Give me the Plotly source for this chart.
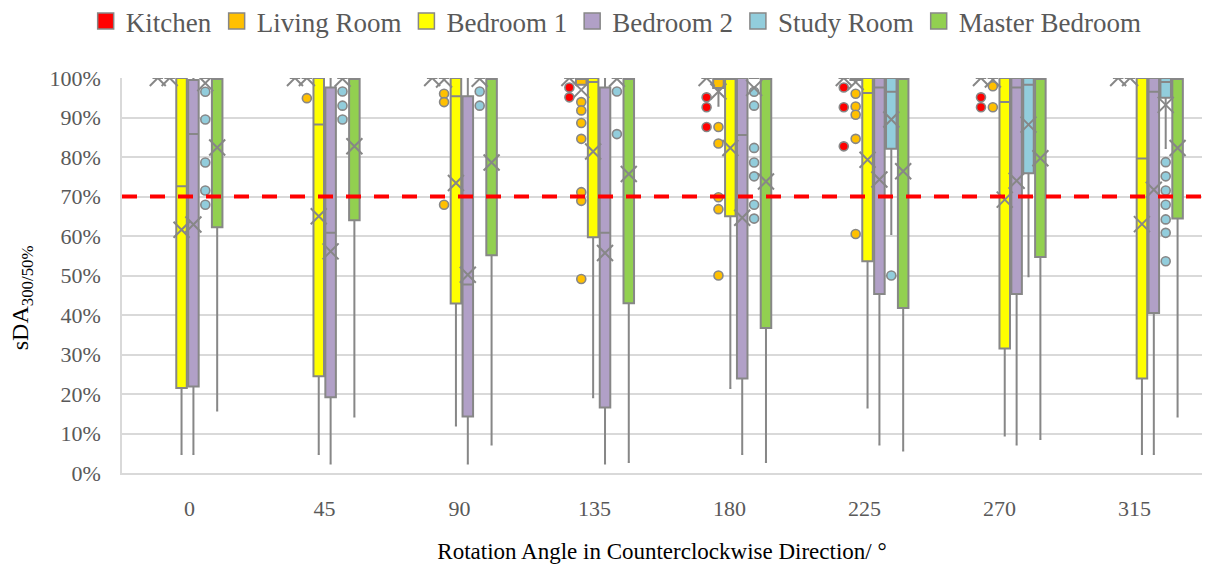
import plotly.graph_objects as go

# Rotation angles (categories on the x axis)
angles = ["0", "45", "90", "135", "180", "225", "270", "315"]

rooms = ["Kitchen", "Living Room", "Bedroom 1", "Bedroom 2", "Study Room", "Master Bedroom"]

# Box statistics per room (sDA300/50%, in percent), one value per angle
kitchen_q1 = [100, 100, 100, 100, 100, 100, 100, 100]
kitchen_median = [100, 100, 100, 100, 100, 100, 100, 100]
kitchen_q3 = [100, 100, 100, 100, 100, 100, 100, 100]
kitchen_low = [100, 100, 100, 100, 100, 100, 100, 100]
kitchen_high = [100, 100, 100, 100, 100, 100, 100, 100]
kitchen_mean = [100, 100, 100, 100, 100, 100, 100, 100]
kitchen_outliers = [[], [], [], [97.6, 95.1], [95.1, 92.6, 87.6], [97.6, 92.6, 82.7], [95.1, 92.6], []]

living_q1 = [100, 100, 100, 98.3, 97.5, 99.5, 100, 100]
living_median = [100, 100, 100, 100, 100, 100, 100, 100]
living_q3 = [100, 100, 100, 100, 100, 100, 100, 100]
living_low = [100, 100, 100, 98.3, 93.0, 99.5, 100, 100]
living_high = [100, 100, 100, 100, 100, 100, 100, 100]
living_mean = [100, 100, 99.6, 97.0, 96.6, 99.0, 99.6, 100]
living_outliers = [[], [94.9], [96.0, 93.9, 67.9],
                   [93.9, 91.8, 88.6, 84.6, 71.1, 68.9, 49.1],
                   [87.6, 83.4, 69.8, 66.8, 50.0],
                   [96.0, 92.8, 90.7, 84.6, 60.5],
                   [97.9, 92.6], []]

bed1_q1 = [21.5, 24.5, 42.9, 59.7, 65.0, 53.6, 31.5, 23.9]
bed1_median = [72.6, 88.2, 95.4, 99.0, 100, 96.2, 93.9, 79.6]
bed1_q3 = [100, 100, 100, 100, 100, 100, 100, 100]
bed1_low = [4.8, 4.8, 12.0, 19.2, 21.5, 16.6, 9.5, 4.8]
bed1_high = [100, 100, 100, 100, 100, 100, 100, 100]
bed1_mean = [61.6, 65.0, 73.4, 81.4, 82.3, 79.3, 69.2, 63.0]
bed1_outliers = [[], [], [], [], [], [], [], []]

bed2_q1 = [21.9, 19.2, 14.3, 16.6, 23.9, 45.3, 45.3, 40.5]
bed2_median = [85.8, 60.8, 47.7, 60.8, 85.6, 97.6, 97.6, 96.5]
bed2_q3 = [99.5, 97.6, 95.4, 97.6, 100, 100, 100, 100]
bed2_low = [4.8, 2.4, 2.4, 2.4, 4.8, 7.2, 7.2, 4.8]
bed2_high = [100, 100, 100, 100, 100, 100, 100, 100]
bed2_mean = [62.9, 56.1, 50.2, 55.7, 64.6, 74.3, 74.0, 71.7]
bed2_outliers = [[], [], [], [], [], [], [], []]

study_q1 = [100, 100, 100, 100, 100, 82.1, 75.9, 95.0]
study_median = [100, 100, 100, 100, 100, 96.5, 98.3, 99.0]
study_q3 = [100, 100, 100, 100, 100, 100, 100, 100]
study_low = [100, 100, 100, 100, 100, 60.5, 49.8, 82.3]
study_high = [100, 100, 100, 100, 100, 100, 100, 100]
study_mean = [98.7, 99.8, 99.8, 99.8, 97.5, 89.5, 88.2, 93.2]
study_outliers = [[96.5, 89.5, 78.6, 71.5, 67.9], [96.6, 93.0, 89.5], [96.6, 93.0],
                  [96.6, 85.8], [96.5, 93.0, 82.3, 78.6, 75.1, 67.9, 64.4],
                  [50.0], [], [78.7, 75.1, 71.5, 67.9, 64.2, 60.8, 53.6]]

master_q1 = [62.2, 64.0, 55.1, 43.0, 36.7, 41.8, 54.7, 64.4]
master_median = [100, 100, 100, 100, 100, 100, 100, 100]
master_q3 = [100, 100, 100, 100, 100, 100, 100, 100]
master_low = [15.8, 14.3, 7.2, 2.8, 2.8, 5.7, 8.6, 14.3]
master_high = [100, 100, 100, 100, 100, 100, 100, 100]
master_mean = [82.4, 82.7, 78.6, 75.7, 73.8, 76.4, 79.7, 82.3]
master_outliers = [[], [], [], [], [], [], [], []]

threshold = 70

# ---- styling ----
colors = ["#FF0000", "#FFC000", "#FFFF00", "#B1A0C7", "#92CDDC", "#92D050"]
GRAY = "#878787"
SERIF = "Liberation Serif, Times New Roman, serif"
TICK_GRAY = "#595959"

GROUP_PITCH = 1.0163   # spacing of box groups along the category axis
GROUP_SHIFT = -0.015
SLOT = 0.088           # distance between neighbouring boxes in a group
BOX_W = 0.078

series = [
    (kitchen_q1, kitchen_median, kitchen_q3, kitchen_low, kitchen_high, kitchen_mean, kitchen_outliers),
    (living_q1, living_median, living_q3, living_low, living_high, living_mean, living_outliers),
    (bed1_q1, bed1_median, bed1_q3, bed1_low, bed1_high, bed1_mean, bed1_outliers),
    (bed2_q1, bed2_median, bed2_q3, bed2_low, bed2_high, bed2_mean, bed2_outliers),
    (study_q1, study_median, study_q3, study_low, study_high, study_mean, study_outliers),
    (master_q1, master_median, master_q3, master_low, master_high, master_mean, master_outliers),
]

fig = go.Figure()

# legend swatches (square keys with a grey border)
for name, color in zip(rooms, colors):
    fig.add_trace(go.Scatter(
        x=[None], y=[None], mode="markers", name=name, legendgroup=name,
        marker=dict(symbol="square", size=16, color=color, line=dict(color=GRAY, width=1.5)),
    ))

n_rooms = len(rooms)
for k, (name, color, stats) in enumerate(zip(rooms, colors, series)):
    q1, med, q3, lo, hi, mean, outl = stats
    xs = [i * GROUP_PITCH + GROUP_SHIFT + (k - (n_rooms - 1) / 2) * SLOT for i in range(len(angles))]
    fig.add_trace(go.Box(
        x=xs, q1=q1, median=med, q3=q3, lowerfence=lo, upperfence=hi,
        orientation="v", width=BOX_W, whiskerwidth=0.2,
        fillcolor=color, line=dict(color=GRAY, width=2),
        boxpoints=False, name=name, legendgroup=name, showlegend=False, hoverinfo="skip",
    ))
    ox, oy = [], []
    for x, vals in zip(xs, outl):
        for v in vals:
            ox.append(x)
            oy.append(v)
    if ox:
        fig.add_trace(go.Scatter(
            x=ox, y=oy, mode="markers", showlegend=False, legendgroup=name,
            marker=dict(symbol="circle", size=9, color=color, line=dict(color=GRAY, width=1.6)),
            hoverinfo="skip",
        ))
    fig.add_trace(go.Scatter(
        x=xs, y=mean, mode="markers", showlegend=False, legendgroup=name,
        marker=dict(symbol="x-thin-open", size=16, color=GRAY, line=dict(color=GRAY, width=2)),
        hoverinfo="skip",
    ))

# 70 % target line
fig.add_shape(type="line", xref="paper", x0=0, x1=1, yref="y", y0=threshold, y1=threshold,
              line=dict(color="#FF0000", width=4, dash="15px,13px"), layer="above")

# vertical axis title with subscript
fig.add_annotation(text="sDA<sub>300/50%</sub>", xref="paper", yref="paper",
                   x=-0.0926, y=0.445, xanchor="center", yanchor="middle",
                   textangle=-90, showarrow=False,
                   font=dict(family=SERIF, size=24, color="#000000"))

fig.update_layout(
    width=1225, height=567,
    margin=dict(l=122, r=23, t=78, b=94, autoexpand=False),
    paper_bgcolor="white", plot_bgcolor="white",
    boxmode="overlay",
    font=dict(family=SERIF, color=TICK_GRAY),
    legend=dict(orientation="h", xref="container", yref="container",
                x=0.503, xanchor="center", y=0.962, yanchor="middle",
                font=dict(family=SERIF, size=27, color=TICK_GRAY),
                itemclick=False, itemdoubleclick=False),
    xaxis=dict(range=[-0.5, 7.5], tickmode="array", tickvals=list(range(len(angles))),
               ticktext=angles, showgrid=False, zeroline=False,
               showline=True, linecolor="#D9D9D9", linewidth=1.5,
               tickfont=dict(family=SERIF, size=22, color=TICK_GRAY),
               ticklabelstandoff=15,
               title=dict(text="Rotation Angle in Counterclockwise Direction/ °",
                          font=dict(family=SERIF, size=23, color="#000000"), standoff=23)),
    yaxis=dict(range=[0, 100], dtick=10, ticksuffix="%", showgrid=True,
               gridcolor="#D9D9D9", gridwidth=1.5, zeroline=False,
               showline=True, linecolor="#D9D9D9", linewidth=1.5,
               tickfont=dict(family=SERIF, size=22, color=TICK_GRAY),
               ticklabelstandoff=15),
)

fig.write_html("out.html")
